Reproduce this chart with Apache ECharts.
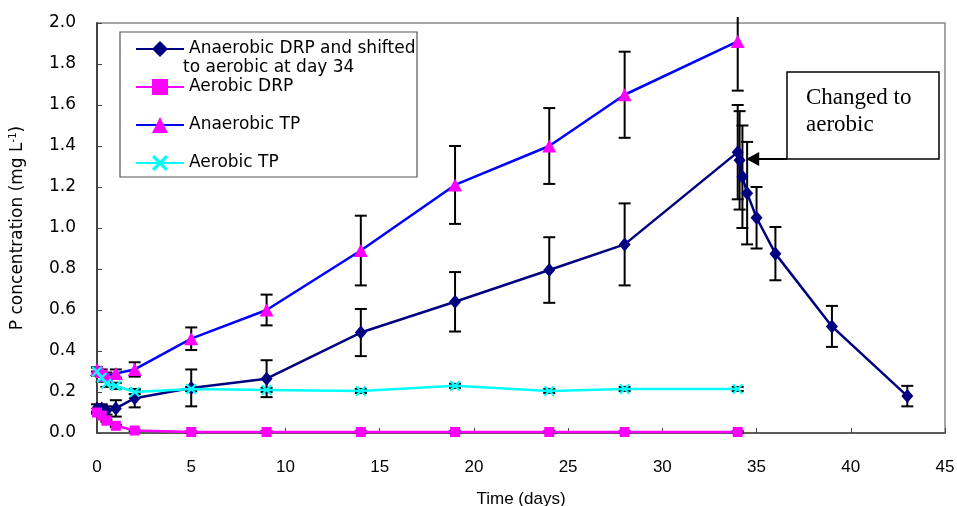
<!DOCTYPE html>
<html>
<head>
<meta charset="utf-8">
<script src="https://cdn.jsdelivr.net/npm/echarts@6/dist/echarts.min.js"></script>
<style>html,body{margin:0;padding:0;background:#fff}#c{width:957px;height:506px}</style>
</head>
<body>
<div id="c"></div>
<script>
// ---- data ----
const xTickLabels = ['0','5','10','15','20','25','30','35','40','45'];
const yTickLabels = ['0.0','0.2','0.4','0.6','0.8','1.0','1.2','1.4','1.6','1.8','2.0'];

const seriesNames = [
  'Anaerobic DRP and shifted to aerobic at day 34',
  'Aerobic DRP',
  'Anaerobic TP',
  'Aerobic TP'
];

const anDrpDays = [0, 0.25, 0.5, 1, 2, 5, 9, 14, 19, 24, 28, 34, 34.1, 34.25, 34.5, 35, 36, 39, 43];
const anDrpVals = [0.12, 0.12, 0.11, 0.12, 0.17, 0.22, 0.265, 0.49, 0.64, 0.795, 0.92, 1.37, 1.33, 1.25, 1.17, 1.05, 0.875, 0.52, 0.18];
const anDrpErr  = [0.02, 0.02, 0.02, 0.04, 0.045, 0.09, 0.09, 0.115, 0.145, 0.16, 0.2, 0.23, 0.24, 0.25, 0.25, 0.15, 0.13, 0.1, 0.05];

const aeDrpDays = [0, 0.25, 0.5, 1, 2, 5, 9, 14, 19, 24, 28, 34];
const aeDrpVals = [0.10, 0.085, 0.06, 0.035, 0.012, 0.005, 0.005, 0.005, 0.005, 0.005, 0.005, 0.005];
const aeDrpErr  = [0.005, 0.005, 0.005, 0.005, 0.004, 0.004, 0.004, 0.004, 0.004, 0.004, 0.004, 0.004];

const anTpDays = [0, 0.25, 0.5, 1, 2, 5, 9, 14, 19, 24, 28, 34];
const anTpVals = [0.31, 0.30, 0.28, 0.29, 0.31, 0.46, 0.60, 0.89, 1.21, 1.40, 1.65, 1.91];
const anTpErr  = [0.01, 0.01, 0.015, 0.02, 0.035, 0.055, 0.075, 0.17, 0.19, 0.185, 0.21, 0.24];

const aeTpDays = [0, 0.25, 0.5, 1, 2, 5, 9, 14, 19, 24, 28, 34];
const aeTpVals = [0.30, 0.27, 0.24, 0.23, 0.20, 0.215, 0.21, 0.205, 0.23, 0.205, 0.215, 0.215];
const aeTpErr  = [0.02, 0.02, 0.015, 0.015, 0.01, 0.01, 0.01, 0.01, 0.01, 0.01, 0.01, 0.01];

const annotationText = 'Changed to\naerobic';
const annotationTarget = [34.45, 1.337];

// ---- chart ----
const chart = echarts.init(document.getElementById('c'), null, {renderer: 'canvas'});

function pairs(days, vals) { return days.map((d, i) => [d, vals[i]]); }
function errs(days, vals, e) { return days.map((d, i) => [d, vals[i] - e[i], vals[i] + e[i]]); }

const crossPath = 'path://M0,1.4L1.4,0L5,3.6L8.6,0L10,1.4L6.4,5L10,8.6L8.6,10L5,6.4L1.4,10L0,8.6L3.6,5Z';

function errRender(params, api) {
  const x = api.value(0), lo = api.value(1), hi = api.value(2);
  const pLo = api.coord([x, lo]);
  const pHi = api.coord([x, hi]);
  const top = params.coordSys.y;
  const cw = 6;
  const st = {stroke: '#000', lineWidth: 2};
  let yHi = pHi[1], capHi = true;
  if (yHi < top - 6) { yHi = top - 6; capHi = false; }
  const ch = [
    {type: 'line', shape: {x1: pLo[0], y1: pLo[1], x2: pHi[0], y2: yHi}, style: st},
    {type: 'line', shape: {x1: pLo[0] - cw, y1: pLo[1], x2: pLo[0] + cw, y2: pLo[1]}, style: st}
  ];
  if (capHi) ch.push({type: 'line', shape: {x1: pHi[0] - cw, y1: yHi, x2: pHi[0] + cw, y2: yHi}, style: st});
  return {type: 'group', children: ch};
}

function errSeries(data) {
  return {type: 'custom', renderItem: errRender, data: data, z: 1, clip: false,
          silent: true, encode: {x: 0, y: [1, 2]}, legendHoverLink: false};
}

const option = {
  animation: false,
  backgroundColor: '#fff',
  grid: {left: 97, right: 12, top: 23, bottom: 73, outerBoundsMode: 'none', containLabel: false,
         show: true, borderColor: '#888', borderWidth: 1.5, backgroundColor: 'transparent'},
  xAxis: {
    type: 'value', min: 0, max: 45, interval: 5,
    name: 'Time (days)', nameLocation: 'middle', nameGap: 58,
    nameTextStyle: {fontFamily: 'Liberation Sans', fontSize: 17, color: '#000'},
    axisLine: {show: true, lineStyle: {color: '#444', width: 1.5}},
    axisTick: {show: true, inside: true, length: 5, lineStyle: {color: '#444'}},
    axisLabel: {margin: 26, fontFamily: 'Liberation Sans', fontSize: 17, color: '#000',
      formatter: v => xTickLabels[Math.round(v / 5)] ?? ''},
    splitLine: {show: false}
  },
  yAxis: {
    type: 'value', min: 0, max: 2, interval: 0.2,
    name: 'P concentration (mg L{sup|-1})', nameLocation: 'middle', nameGap: 70, nameRotate: 90,
    nameTextStyle: {fontFamily: 'DejaVu Sans', fontSize: 17, color: '#000',
      rich: {sup: {fontFamily: 'DejaVu Sans', fontSize: 10, color: '#000', padding: [0, 0, 9, 0]}}},
    axisLine: {show: true, lineStyle: {color: '#444', width: 2}},
    axisTick: {show: true, inside: true, length: 5, lineStyle: {color: '#444'}},
    axisLabel: {margin: 21, fontFamily: 'DejaVu Sans', fontSize: 17, color: '#000',
      formatter: v => yTickLabels[Math.round(v / 0.2)] ?? ''},
    splitLine: {show: false}
  },
  legend: {
    orient: 'vertical', left: 130, top: 35, itemWidth: 48, itemHeight: 20, itemGap: 20,
    data: seriesNames, selectedMode: false,
    textStyle: {fontFamily: 'DejaVu Sans', fontSize: 17, color: '#000', lineHeight: 18},
    formatter: n => n === seriesNames[0] ? 'Anaerobic DRP and shifted' : n
  },
  series: [
    errSeries(errs(anDrpDays, anDrpVals, anDrpErr)),
    errSeries(errs(aeDrpDays, aeDrpVals, aeDrpErr)),
    errSeries(errs(anTpDays, anTpVals, anTpErr)),
    errSeries(errs(aeTpDays, aeTpVals, aeTpErr)),
    {name: seriesNames[0], type: 'line', data: pairs(anDrpDays, anDrpVals), z: 3,
     symbol: 'diamond', symbolSize: [12, 14], color: '#000080',
     lineStyle: {color: '#000080', width: 2.5}, itemStyle: {color: '#000080'}},
    {name: seriesNames[1], type: 'line', data: pairs(aeDrpDays, aeDrpVals), z: 4,
     symbol: 'rect', symbolSize: 10, color: '#ff00ff',
     lineStyle: {color: '#ff00ff', width: 2.5}, itemStyle: {color: '#ff00ff'}},
    {name: seriesNames[2], type: 'line', data: pairs(anTpDays, anTpVals), z: 5,
     symbol: 'triangle', symbolSize: [14, 13], color: '#ff00ff',
     lineStyle: {color: '#0000ff', width: 2.5}, itemStyle: {color: '#ff00ff'}},
    {name: seriesNames[3], type: 'line', data: pairs(aeTpDays, aeTpVals), z: 6,
     symbol: crossPath, symbolSize: 11, color: '#00ffff',
     lineStyle: {color: '#00ffff', width: 2.5}, itemStyle: {color: '#00ffff'}}
  ]
};
chart.setOption(option);

// annotation + legend frame
const tip = chart.convertToPixel({gridIndex: 0}, annotationTarget);
const boxL = 787, boxT = 72, boxW = 152, boxH = 87;
chart.setOption({
  graphic: [
    {type: 'rect', z: 3, shape: {x: 120, y: 32, width: 297, height: 145},
     style: {fill: '#fff', stroke: '#555', lineWidth: 1.2}},
    {type: 'text', z: 10, left: 183, top: 59,
     style: {text: 'to aerobic at day 34', font: '17px "DejaVu Sans"', fill: '#000'}},
    {type: 'rect', z: 10, shape: {x: boxL, y: boxT, width: boxW, height: boxH},
     style: {fill: '#fff', stroke: '#000', lineWidth: 1.5}},
    {type: 'text', z: 11, left: 806, top: 84,
     style: {text: annotationText, font: '23px "Liberation Serif"', fill: '#000', lineHeight: 27}},
    {type: 'line', z: 10, shape: {x1: boxL, y1: boxT + boxH, x2: tip[0] + 10, y2: boxT + boxH},
     style: {stroke: '#000', lineWidth: 2}},
    {type: 'polygon', z: 10, shape: {points: [[tip[0], boxT + boxH], [tip[0] + 13, boxT + boxH - 7], [tip[0] + 13, boxT + boxH + 7]]},
     style: {fill: '#000'}}
  ]
});
</script>
</body>
</html>
